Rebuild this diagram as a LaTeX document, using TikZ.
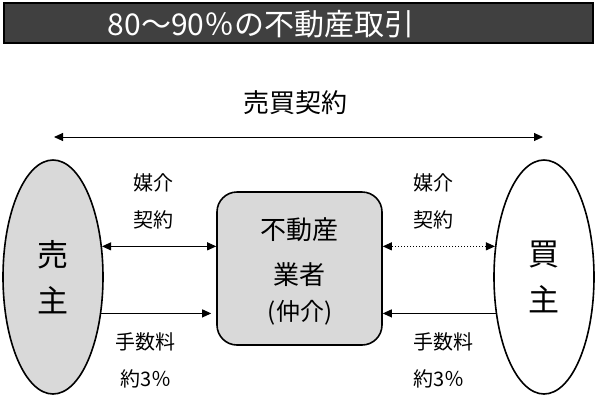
\documentclass[tikz,border=0pt]{standalone}
\usepackage{fontspec}
\setmainfont{Noto Sans CJK JP}
\usepackage{tikz}
\usetikzlibrary{arrows.meta,shapes.geometric}

\begin{document}
\begin{tikzpicture}[x=1pt,y=-1pt,
	party/.style={ellipse,draw,line width=1.6pt,minimum width=100pt,minimum height=234pt,inner sep=0pt,font=\fontsize{31}{46}\selectfont,align=center},
	agentbox/.style={draw,line width=1.6pt,rounded corners=20pt,fill=black!15,minimum width=165pt,minimum height=153pt,inner sep=0pt},
	lbl/.style={font=\fontsize{20}{37}\selectfont,align=left,inner sep=0pt},
	link/.style={line width=1pt,-{Triangle[length=9pt,width=8pt]}},
	both/.style={line width=1pt,{Triangle[length=9pt,width=8pt]}-{Triangle[length=9pt,width=8pt]}}]
\useasboundingbox (0,0) rectangle (597,400);

\node[draw=black,line width=1.5pt,fill=black!75,minimum width=589pt,minimum height=40pt,inner sep=0pt] (titlebar) at (298.5,23) {};
\node[text=white,font=\fontsize{30}{30}\selectfont] (title) at (261,24) {80〜90％の不動産取引};

\node[party,fill=black!15] (seller) at (53,277) {売\\主};
\node[party,fill=white] (buyer) at (544,277) {買\\主};
\node[agentbox] (agent) at (299.5,268.5) {};
\node[font=\fontsize{26}{45}\selectfont,align=center] (agenttext) at (299.5,252) {不動産\\業者};
\node[font=\fontsize{24}{24}\selectfont] (agentnote) at (300,313) {(仲介)};

\coordinate (tl) at (54,137);
\coordinate (tr) at (543,137);
\draw[both] (tl) -- (tr);
\node[font=\fontsize{26}{26}\selectfont] (sale) at (295,103) {売買契約};

\draw[both] (seller.32) -- (seller.32 -| agent.west);
\draw[link,shorten >=5pt] (seller.-37) -- (seller.-37 -| agent.west);
\draw[both,dotted] (buyer.148) -- (buyer.148 -| agent.east);
\draw[link] (buyer.-143) -- (buyer.-143 -| agent.east);

\node[lbl,anchor=west] (lmed) at (133,201) {媒介\\契約};
\node[lbl,anchor=west] (lfee) at (115,360) {手数料\\\hspace{5pt}約3％};
\node[lbl,anchor=west] (rmed) at (413,201) {媒介\\契約};
\node[lbl,anchor=west] (rfee) at (413,360) {手数料\\約3％};
\end{tikzpicture}
\end{document}
